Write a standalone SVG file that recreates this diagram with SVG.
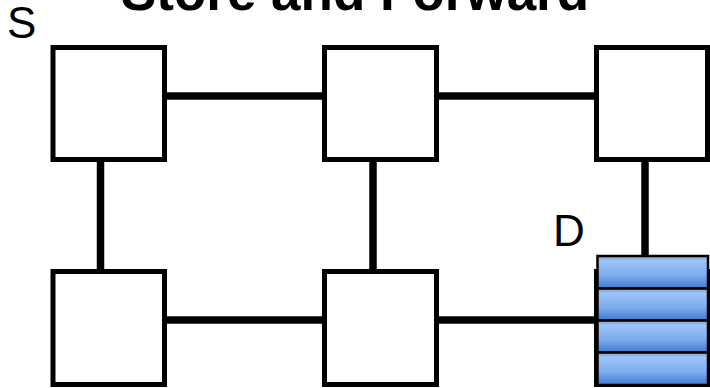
<svg xmlns="http://www.w3.org/2000/svg" width="710" height="388" viewBox="0 0 710 388">
<defs>
<style>
.box{fill:#fff;stroke:#000;stroke-width:5}
.link{stroke:#000;stroke-width:7.5;fill:none}
.lbl{font-family:"Liberation Sans",Arial,sans-serif;font-size:44px;fill:#000}
.title{font-family:"Liberation Sans",Arial,sans-serif;font-size:53px;font-weight:bold;fill:#000}
.cell{fill:url(#qg);stroke:#000;stroke-width:2.5}
</style>
<linearGradient id="qg" x1="0" y1="0" x2="0" y2="1">
<stop offset="0" stop-color="#7f9dcc"/>
<stop offset="0.15" stop-color="#9ec4f7"/>
<stop offset="0.6" stop-color="#7cacee"/>
<stop offset="1" stop-color="#3d7bd3"/>
</linearGradient>
</defs>
<rect width="710" height="388" fill="#fff"/>
<text class="title" x="355" y="10" text-anchor="middle">Store and Forward</text>
<g id="connectors">
<line class="link" x1="165" y1="96" x2="325" y2="96"/>
<line class="link" x1="437" y1="96" x2="597" y2="96"/>
<line class="link" x1="100.5" y1="160" x2="100.5" y2="272"/>
<line class="link" x1="373" y1="160" x2="373" y2="272"/>
<line class="link" x1="645" y1="160" x2="645" y2="257"/>
<line class="link" x1="165" y1="320" x2="325" y2="320"/>
<line class="link" x1="437" y1="320" x2="597" y2="320"/>
</g>
<g id="n1"><rect class="box" x="53" y="47.5" width="111.5" height="112"/><text class="lbl" x="7" y="37.5">S</text></g>
<g id="n2"><rect class="box" x="324.5" y="47.5" width="112" height="112"/></g>
<g id="n3"><rect class="box" x="596.5" y="47.5" width="111" height="112"/></g>
<g id="n4"><rect class="box" x="53" y="271.5" width="111.5" height="113"/></g>
<g id="n5"><rect class="box" x="324.5" y="271.5" width="112" height="113"/></g>
<g id="n6"><rect class="box" x="596.5" y="271.5" width="111" height="113"/>
<text class="lbl" x="553" y="246">D</text>
<g id="queue">
<rect class="cell" x="597.5" y="256" width="110.5" height="32.5"/>
<rect class="cell" x="597.5" y="288.5" width="110.5" height="32"/>
<rect class="cell" x="597.5" y="320.5" width="110.5" height="32"/>
<rect class="cell" x="597.5" y="352.5" width="110.5" height="32.5"/>
</g>
</g>
</svg>
